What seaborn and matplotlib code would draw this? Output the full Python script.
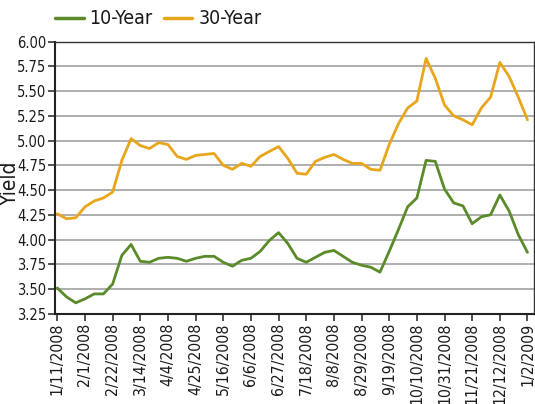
import matplotlib
matplotlib.use("Agg")
import matplotlib.pyplot as plt
import seaborn as sns
import pandas as pd
import numpy as np
from matplotlib.lines import Line2D

# Data (weekly, 1/11/2008 .. 1/2/2009)
ten_year = [3.51, 3.42, 3.36, 3.40, 3.45, 3.45, 3.55, 3.84, 3.95, 3.78,
            3.77, 3.81, 3.82, 3.81, 3.78, 3.81, 3.83, 3.83, 3.77, 3.73,
            3.79, 3.81, 3.88, 3.99, 4.07, 3.96, 3.81, 3.77, 3.82, 3.87,
            3.89, 3.83, 3.77, 3.74, 3.72, 3.67, 3.88, 4.10, 4.33, 4.42,
            4.80, 4.79, 4.51, 4.37, 4.34, 4.16, 4.23, 4.25, 4.45, 4.29,
            4.05, 3.87]
thirty_year = [4.26, 4.21, 4.22, 4.33, 4.39, 4.42, 4.48, 4.80, 5.02, 4.95,
               4.92, 4.98, 4.96, 4.84, 4.81, 4.85, 4.86, 4.87, 4.75, 4.71,
               4.77, 4.74, 4.84, 4.89, 4.94, 4.82, 4.67, 4.66, 4.79, 4.83,
               4.86, 4.81, 4.77, 4.77, 4.71, 4.70, 4.96, 5.17, 5.33, 5.40,
               5.83, 5.63, 5.36, 5.25, 5.21, 5.16, 5.33, 5.44, 5.79, 5.65,
               5.44, 5.21]
tick_labels = ["1/11/2008", "2/1/2008", "2/22/2008", "3/14/2008", "4/4/2008",
               "4/25/2008", "5/16/2008", "6/6/2008", "6/27/2008", "7/18/2008",
               "8/8/2008", "8/29/2008", "9/19/2008", "10/10/2008", "10/31/2008",
               "11/21/2008", "12/12/2008", "1/2/2009"]
series_names = ["10-Year", "30-Year"]
colors = ["#5a8a2a", "#e8a61c"]

week = list(range(len(ten_year)))
df = pd.DataFrame({
    "week": week * 2,
    "Yield": ten_year + thirty_year,
    "series": [series_names[0]] * len(ten_year) + [series_names[1]] * len(thirty_year),
})

sns.set_theme(style="white")
plt.rcParams['font.family'] = ['DejaVu Sans']
plt.rcParams['font.stretch'] = 'condensed'

fig = plt.figure(figsize=(5.35, 4.04), dpi=100)
ax = fig.add_axes([0.1037, 0.2235, 0.8943, 0.6733])

sns.lineplot(data=df, x="week", y="Yield", hue="series", palette=colors,
             linewidth=2.0, ax=ax, legend=False)

yt = np.arange(3.25, 6.01, 0.25)
ax.set_ylim(3.25, 6.00)
ax.set_yticks(yt)
ax.set_yticklabels([f"{v:.2f}" for v in yt], fontsize=10.5, fontstretch='condensed')
ax.yaxis.grid(True, color="#a8a8a8", linewidth=1.3)
ax.xaxis.grid(False)

ax.set_xlim(-0.2, 51.7)
ax.set_xticks(list(range(0, 52, 3)))
ax.set_xticklabels(tick_labels, rotation=90, fontsize=11.3, va="top", ha="center",
                   fontstretch='condensed')

ax.tick_params(axis="both", which="both", direction="out", length=5, width=1.2,
               color="#333333", labelcolor="#1a1a1a", pad=1.5, left=True, bottom=True)
for side in ["left", "bottom"]:
    ax.spines[side].set_color("#222222")
    ax.spines[side].set_linewidth(1.5)
for side in ["top", "right"]:
    ax.spines[side].set_color("#333333")
    ax.spines[side].set_linewidth(1.0)

ax.set_xlabel("")
ax.set_ylabel("Yield", fontsize=15, color="#1a1a1a", fontstretch='condensed')
ax.yaxis.set_label_coords(-0.074, 0.48)

handles = [Line2D([0], [0], color=c, linewidth=2.5) for c in colors]
fig.legend(handles, series_names, loc="upper left", bbox_to_anchor=(0.071, 1.02),
           ncol=2, frameon=False, handlelength=1.45,
           handletextpad=0.3, columnspacing=0.6, labelcolor="#1a1a1a",
           prop={'size': 14, 'stretch': 'condensed'})

fig.savefig("out.png", dpi=100)
